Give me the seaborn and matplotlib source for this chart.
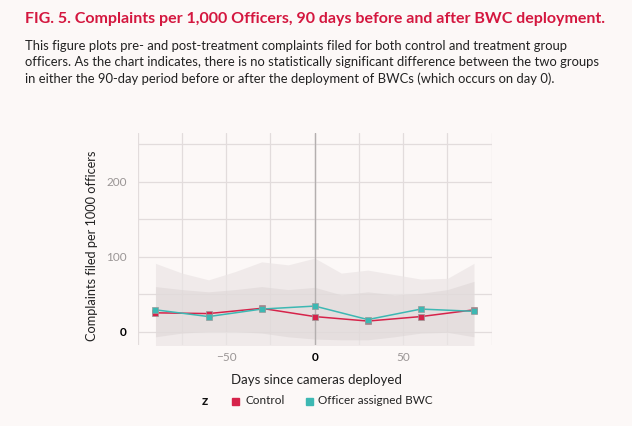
import numpy as np
import pandas as pd
import matplotlib.pyplot as plt
import seaborn as sns
from matplotlib.ticker import MultipleLocator
from matplotlib.patches import Rectangle

# values
days = [-90, -60, -30, 0, 30, 60, 90]
control = [25, 24, 31, 20, 14, 20, 29]
bwc = [29, 20, 30, 34, 16, 30, 27]

band_days = [-90, -75, -60, -45, -30, -15, 0, 15, 30, 45, 60, 75, 90]
outer_hi = [91, 78, 69, 80, 93, 89, 98, 78, 82, 76, 70, 71, 91]
inner_hi = [60, 56, 53, 56, 60, 56, 59, 49, 53, 49, 51, 56, 67]
inner_lo = [-7, -2, 0, 0, -2, -7, -10, -11, -11, -7, -2, -1, -7]
outer_lo = [-40, -40, -40, -40, -40, -40, -40, -40, -40, -40, -40, -40, -40]

groups = ['Control', 'Officer assigned BWC']
colors = {'Control': '#d6234a', 'Officer assigned BWC': '#3db8b3'}

df = pd.DataFrame({'day': days * 2,
                   'complaints': control + bwc,
                   'group': [groups[0]] * len(days) + [groups[1]] * len(days)})

bg = '#fcf8f7'
sns.set_style('white')
plt.rcParams['font.family'] = ['Lato', 'DejaVu Sans']

fig = plt.figure(figsize=(6.32, 4.26), dpi=100, facecolor=bg)
ax = fig.add_axes([0.218, 0.190, 0.560, 0.498], facecolor=bg)

#confidence bands
ax.fill_between(band_days, outer_lo, outer_hi, color='#ebe5e5', alpha=0.7, lw=0, zorder=1)
ax.fill_between(band_days, inner_lo, inner_hi, color='#dcd5d5', alpha=0.55, lw=0, zorder=1)

sns.lineplot(data=df, x='day', y='complaints', hue='group', palette=colors,
             marker='s', markersize=5, markeredgecolor='#9a9a9a', markeredgewidth=0.5,
             linewidth=1.1, ax=ax, legend=False, zorder=3)

ax.set_xlim(-100, 100)
ax.set_ylim(-18, 265)
ax.set_xticks([-50, 0, 50])
ax.set_yticks([0, 100, 200])
ax.xaxis.set_minor_locator(MultipleLocator(25))
ax.yaxis.set_minor_locator(MultipleLocator(50))
ax.grid(True, which='both', color='#e2dcdc', lw=0.9, zorder=0)
ax.set_axisbelow(True)
ax.axvline(0, color='#b4afaf', lw=1.0, zorder=2)
for s in ax.spines.values():
    s.set_visible(False)
ax.tick_params(axis='both', which='both', length=0, labelsize=8.5, labelcolor='#9a9595')
ax.tick_params(axis='y', pad=8)
ax.tick_params(axis='x', pad=5)
fig.canvas.draw()
for lab in ax.get_xticklabels() + ax.get_yticklabels():
    if lab.get_text() in ('0', '−0'):
        lab.set_color('black')
        lab.set_fontweight('bold')

ax.set_xlabel('')
ax.set_ylabel('')
fig.text(92 / 632, 1 - 246 / 426, 'Complaints filed per 1000 officers', rotation=90,
         ha='center', va='center', fontsize=9.2, color='#222222')
fig.text(316 / 632, 1 - 380 / 426, 'Days since cameras deployed', ha='center', va='center',
         fontsize=9.5, color='#222222')

#legend row
ly = 1 - 401 / 426
sq_w, sq_h = 7 / 632, 7 / 426
fig.text(205 / 632, ly, 'z', ha='center', va='center', fontsize=10, fontweight='bold', color='#111111')
fig.add_artist(Rectangle((235 / 632 - sq_w / 2, ly - sq_h / 2), sq_w, sq_h,
                         color=colors['Control'], transform=fig.transFigure))
fig.text(245 / 632, ly, 'Control', ha='left', va='center', fontsize=8.5, color='#222222')
fig.add_artist(Rectangle((309 / 632 - sq_w / 2, ly - sq_h / 2), sq_w, sq_h,
                         color=colors['Officer assigned BWC'], transform=fig.transFigure))
fig.text(318 / 632, ly, 'Officer assigned BWC', ha='left', va='center', fontsize=8.5, color='#222222')

#title and description
fig.text(0.040, 0.955, 'FIG. 5. Complaints per 1,000 Officers, 90 days before and after BWC deployment.',
         ha='left', va='center', fontsize=11.5, fontweight='bold', color='#d4173f')
desc = ('This figure plots pre- and post-treatment complaints filed for both control and treatment group\n'
        'officers. As the chart indicates, there is no statistically significant difference between the two groups\n'
        'in either the 90-day period before or after the deployment of BWCs (which occurs on day 0).')
fig.text(0.040, 0.905, desc, ha='left', va='top', fontsize=9.4, color='#222222', linespacing=1.38)

fig.savefig('out.png', dpi=100, facecolor=bg)
